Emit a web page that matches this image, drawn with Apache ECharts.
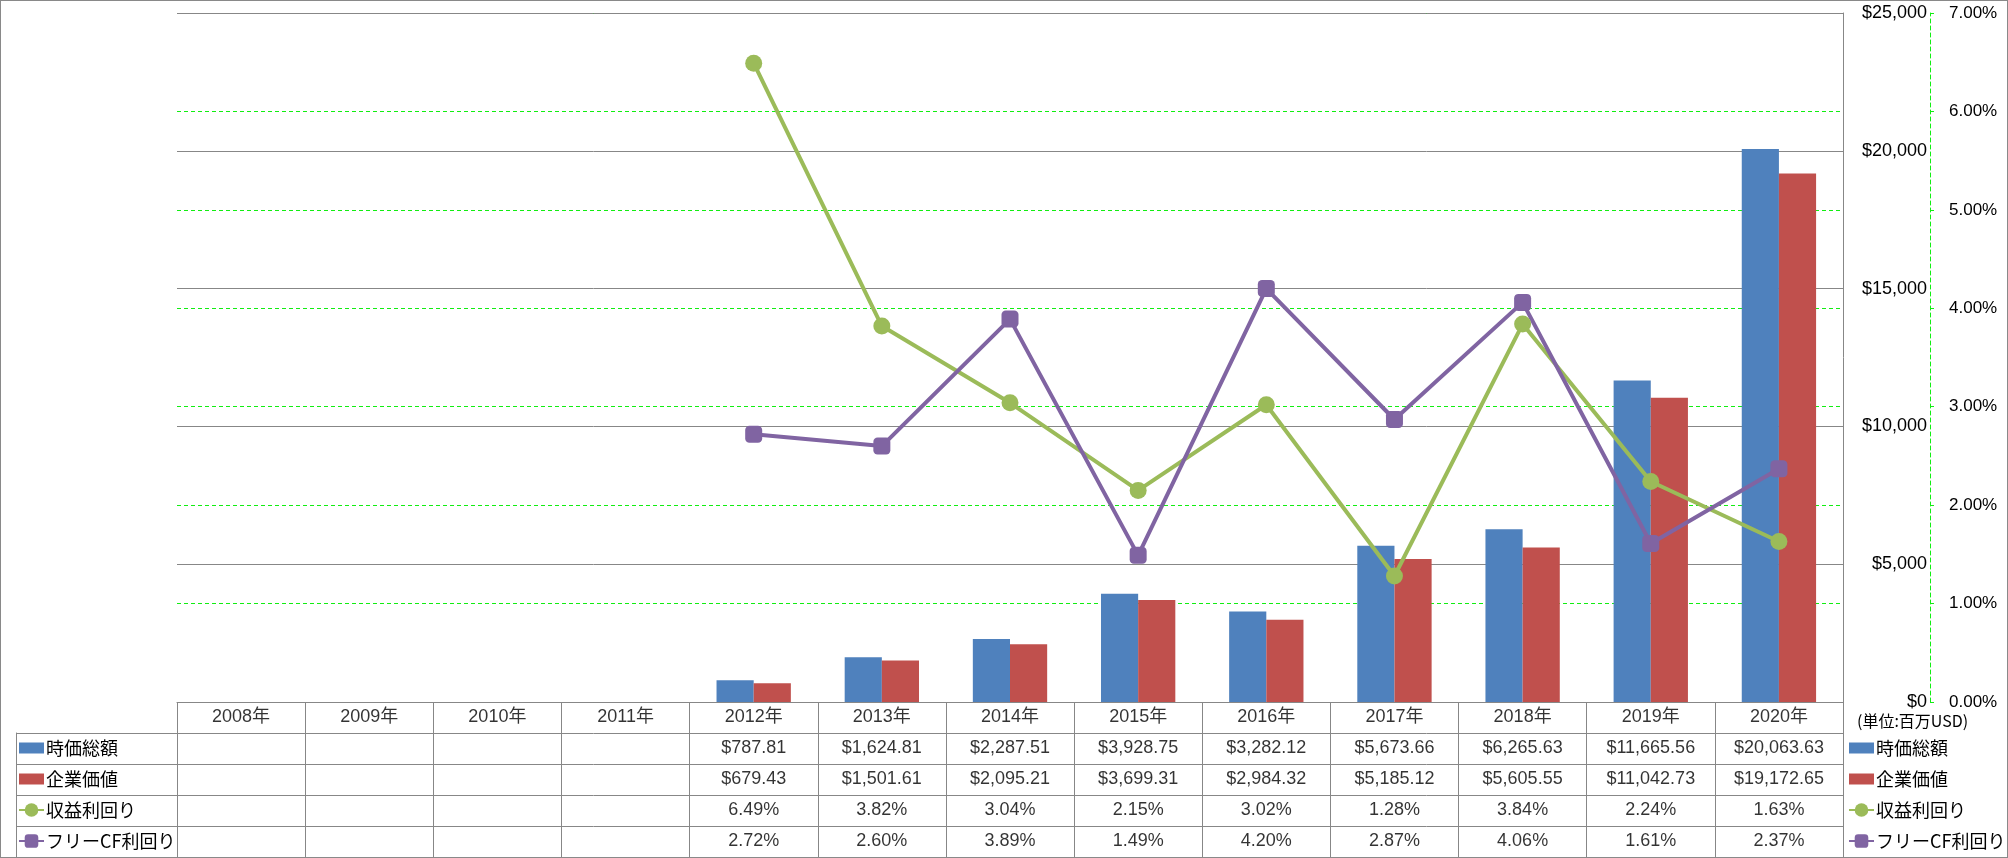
<!DOCTYPE html>
<html><head><meta charset="utf-8">
<script src="https://cdn.jsdelivr.net/npm/echarts@6/dist/echarts.min.js"></script>
<style>
html,body{margin:0;padding:0;background:#fff;}
#c{position:absolute;left:0;top:0;width:2008px;height:858px;}
#b{position:absolute;left:0;top:0;width:2008px;height:858px;box-sizing:border-box;border:1px solid #898989;pointer-events:none;}
</style>
</head><body><div id="c"></div><div id="b"></div>
<script>
const categories = ['2008年','2009年','2010年','2011年','2012年','2013年','2014年','2015年','2016年','2017年','2018年','2019年','2020年'];
const marketCap = [null,null,null,null,787.81,1624.81,2287.51,3928.75,3282.12,5673.66,6265.63,11665.56,20063.63];
const enterpriseValue = [null,null,null,null,679.43,1501.61,2095.21,3699.31,2984.32,5185.12,5605.55,11042.73,19172.65];
const earningsYield = [null,null,null,null,6.49,3.82,3.04,2.15,3.02,1.28,3.84,2.24,1.63];
const fcfYield = [null,null,null,null,2.72,2.60,3.89,1.49,4.20,2.87,4.06,1.61,2.37];
const seriesNames = ['時価総額','企業価値','収益利回り','フリーCF利回り'];
const unitText = '(単位:百万USD)';

const colors = ['#4F81BD','#C0504D','#9BBB59','#8064A2'];
const GRAY = '#878787';
const GREEN = '#11ee11';
const NUMFONT = "'Liberation Sans','Noto Sans CJK JP',sans-serif";
const JPFONT = "'Noto Sans CJK JP',sans-serif";

const fmtMoney = v => '$' + v.toLocaleString('en-US',{minimumFractionDigits:2,maximumFractionDigits:2});
const fmtPct = v => v.toFixed(2) + '%';

const tableData = [];
categories.forEach((c,i)=>tableData.push({value:[i,0.5], t:c}));
[[marketCap,fmtMoney],[enterpriseValue,fmtMoney],[earningsYield,fmtPct],[fcfYield,fmtPct]].forEach(([arr,f],r)=>{
  arr.forEach((v,i)=>{ if(v!==null) tableData.push({value:[i,r+1.5], t:f(v)}); });
});

const barIcon = 'path://M0 0H25V11H0Z';
const legendData = [
  {name:seriesNames[0], icon:barIcon},
  {name:seriesNames[1], icon:barIcon},
  {name:seriesNames[2]},
  {name:seriesNames[3]}
];
const legendBase = {
  orient:'vertical', top:738, itemGap:11, itemWidth:25, itemHeight:17, padding:0,
  selectedMode:false, data:legendData, symbolKeepAspect:true,
  textStyle:{fontSize:18, fontFamily:JPFONT, color:'#000', lineHeight:20, padding:[0,0,0,-3]}
};

const chart = echarts.init(document.getElementById('c'));
chart.setOption({
  animation:false,
  backgroundColor:'#fff',
  title:{text:unitText, left:1857, top:713, padding:0,
    textStyle:{fontSize:16, fontWeight:'normal', fontFamily:JPFONT, color:'#000'}},
  legend:[
    Object.assign({left:18}, legendBase),
    Object.assign({left:1848}, legendBase)
  ],
  grid:[
    {left:177, top:13, width:1666, height:689},
    {left:177, top:702, width:1666, height:155},
    {left:16, top:733, width:161, height:124}
  ],
  xAxis:[
    {type:'category', gridIndex:0, data:categories, boundaryGap:true,
      axisLine:{show:true, lineStyle:{color:GRAY, width:1}}, axisTick:{show:false}, axisLabel:{show:false}, splitLine:{show:false}},
    {type:'category', gridIndex:1, data:categories, boundaryGap:true,
      axisLine:{show:false}, axisTick:{show:false, interval:0}, axisLabel:{show:false, interval:0},
      splitLine:{show:true, interval:0, lineStyle:{color:GRAY, width:1}}},
    {type:'value', gridIndex:2, min:0, max:1, show:false}
  ],
  yAxis:[
    {type:'value', gridIndex:0, position:'right', offset:87, min:0, max:7, interval:1,
      axisLine:{show:true, lineStyle:{color:GREEN, width:1, type:[4,3]}},
      axisTick:{show:true, length:4, lineStyle:{color:GREEN}},
      axisLabel:{formatter:v=>v.toFixed(2)+'%', margin:19, fontSize:17, fontFamily:NUMFONT, color:'#000'},
      splitLine:{show:true, lineStyle:{color:GREEN, width:1, type:[4,3]}}},
    {type:'value', gridIndex:0, position:'right', min:0, max:25000, interval:5000,
      axisLine:{show:true, lineStyle:{color:GRAY, width:1}}, axisTick:{show:false},
      axisLabel:{formatter:v=>'$'+v.toLocaleString('en-US'), align:'right', margin:84, fontSize:18, fontFamily:NUMFONT, color:'#000'},
      splitLine:{show:true, lineStyle:{color:GRAY, width:1}}},
    {type:'value', gridIndex:1, min:0, max:5, interval:1, inverse:true,
      axisLine:{show:false}, axisTick:{show:false}, axisLabel:{show:false},
      splitLine:{show:true, lineStyle:{color:GRAY, width:1}}},
    {type:'value', gridIndex:2, min:0, max:4, interval:1, inverse:true,
      axisLine:{show:true, lineStyle:{color:GRAY, width:1}}, axisTick:{show:false}, axisLabel:{show:false},
      splitLine:{show:true, lineStyle:{color:GRAY, width:1}}}
  ],
  series:[
    {name:seriesNames[0], type:'bar', xAxisIndex:0, yAxisIndex:1, data:marketCap,
      barGap:'0%', barCategoryGap:'42%', itemStyle:{color:colors[0]}},
    {name:seriesNames[1], type:'bar', xAxisIndex:0, yAxisIndex:1, data:enterpriseValue,
      barGap:'0%', barCategoryGap:'42%', itemStyle:{color:colors[1]}},
    {name:seriesNames[2], type:'line', xAxisIndex:0, yAxisIndex:0, data:earningsYield,
      symbol:'circle', symbolSize:17, lineStyle:{width:4, color:colors[2]}, itemStyle:{color:colors[2]}},
    {name:seriesNames[3], type:'line', xAxisIndex:0, yAxisIndex:0, data:fcfYield,
      symbol:'roundRect', symbolSize:17, lineStyle:{width:4, color:colors[3]}, itemStyle:{color:colors[3]}},
    {type:'scatter', xAxisIndex:1, yAxisIndex:2, data:tableData, symbolSize:1, silent:true,
      itemStyle:{color:'rgba(0,0,0,0)'},
      label:{show:true, position:'inside', formatter:p=>p.data.t, fontSize:18, fontFamily:NUMFONT, color:'#000'}}
  ]
});
</script>
</body></html>
